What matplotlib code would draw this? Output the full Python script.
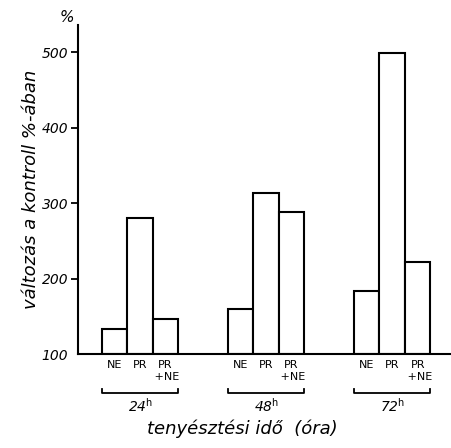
import matplotlib.pyplot as plt
import matplotlib.transforms as mtransforms

# data
groups = ['24', '48', '72']
bar_names = ['NE', 'PR', 'PR\n +NE']
ne = [133, 160, 183]
pr = [280, 313, 499]
pr_ne = [146, 288, 222]

plt.rcParams['font.family'] = ['DejaVu Sans']

fig = plt.figure(figsize=(4.52, 4.48), dpi=100)
ax = fig.add_axes([78 / 452, 94 / 448, 1 - 78 / 452, 329 / 448])

gap = 4.95
width = 1.0
series = [ne, pr, pr_ne]
for i, vals in enumerate(series):
    xs = [g * gap + i * width for g in range(len(groups))]
    heights = [v - 100 for v in vals]
    ax.bar(xs, heights, width=width, bottom=100, align='edge',
           facecolor='white', edgecolor='black', linewidth=1.5)

ax.set_xlim(-0.94, 13.75)
ax.set_ylim(100, 536)

for side in ['top', 'right']:
    ax.spines[side].set_visible(False)
for side in ['left', 'bottom']:
    ax.spines[side].set_linewidth(1.5)

ax.set_xticks([])
ax.set_yticks([100, 200, 300, 400, 500])
ax.set_yticklabels(['100', '200', '300', '400', '500'], fontstyle='italic', fontsize=10)
ax.tick_params(axis='y', length=5, width=1.3, pad=2)
ax.yaxis.get_major_ticks()[0].tick1line.set_visible(False)

ax.set_ylabel('változás a kontroll %-ában', fontstyle='italic', fontsize=13, labelpad=1)
ax.text(-0.01, 1.0, '%', transform=ax.transAxes, ha='right', va='bottom',
        fontstyle='italic', fontsize=11)

trans = mtransforms.blended_transform_factory(ax.transData, ax.transAxes)

for g, label in enumerate(groups):
    left = g * gap
    for i, name in enumerate(bar_names):
        cx = left + i * width + width / 2
        ax.text(cx, -0.018, name, transform=trans, ha='center', va='top',
                fontsize=8, linespacing=1.2, multialignment='center')
    # bracket under each group
    right = left + 3 * width
    ax.plot([left, left, right, right], [-0.105, -0.118, -0.118, -0.105],
            transform=trans, color='black', linewidth=1.3, clip_on=False)
    ax.text(left + 1.5 * width, -0.13, label + r'$^{\mathrm{h}}$', transform=trans,
            ha='center', va='top', fontsize=10, fontstyle='italic')

ax.text(0.44, -0.2, 'tenyésztési idő  (óra)', transform=ax.transAxes,
        ha='center', va='top', fontsize=13, fontstyle='italic')

fig.savefig('out.png', dpi=100)
